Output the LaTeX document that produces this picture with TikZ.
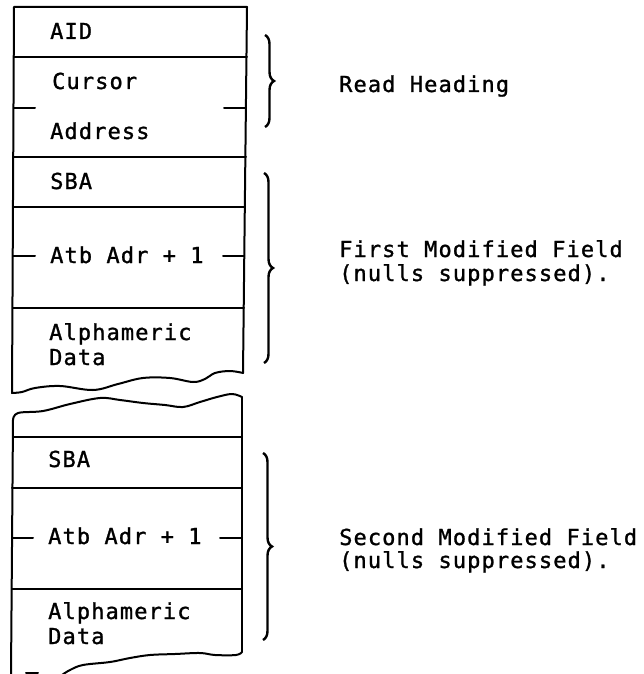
\documentclass[tikz,border=0pt]{standalone}
\usepackage{fontspec}
\setmonofont[LetterSpace=5,FakeBold=1.2]{DejaVu Sans Mono}
\usetikzlibrary{decorations.pathreplacing}
\begin{document}
\begin{tikzpicture}[x=1pt,y=-1pt,
  edge/.style={line width=2pt, line join=round, line cap=round},
  lbl/.style={anchor=base west, inner sep=0pt, font=\fontsize{22}{24}\selectfont\ttfamily},
  brc/.style={line width=2.4pt, decorate, decoration={brace, amplitude=9pt}}]
\useasboundingbox (0,0) rectangle (644,674);
% upper part outline
\draw[edge] (12,393) -- (14,7) -- (247,7) -- (243,373);
\draw[edge] plot[smooth, tension=0.6] coordinates {(12,393) (22,392) (35,388) (60,386) (93,390) (118,384) (143,378) (170,378) (193,382) (205,379) (215,373) (230,371) (243,373)};
% lower part outline
\draw[edge] (11,674) -- (13,420);
\draw[edge] plot[smooth, tension=0.6] coordinates {(13,420) (18,413) (43,411) (70,404) (100,398) (120,400) (143,403) (165,405) (183,407) (200,402) (217,397) (232,394) (242,397)};
\draw[edge] (242,397) -- (242,652);
\draw[edge] plot[smooth, tension=0.6] coordinates {(242,652) (236,655) (215,655) (200,653) (175,654) (150,655) (130,658) (110,662) (83,665) (70,670) (62,675)};
\draw[edge] (26,673) -- (38,673);
% separators upper
\draw[edge] (14,57) -- (247,57);
\draw[edge] (13,157) -- (246,157);
\draw[edge] (13,207) -- (245,207);
\draw[edge] (13,308) -- (244,308);
% separators lower
\draw[edge] (13,437) -- (242,437);
\draw[edge] (12,488) -- (242,488);
\draw[edge] (12,589) -- (242,589);
% ticks
\draw[edge] (14,108) -- (35,108);
\draw[edge] (224,108) -- (246,108);
\draw[edge] (13,256) -- (35,256);
\draw[edge] (223,256) -- (244,256);
\draw[edge] (12,538) -- (33,538);
\draw[edge] (220,538) -- (242,538);
% box texts
\node[lbl] (aid) at (50,39) {AID};
\node[lbl] (cur) at (52,89) {Cursor};
\node[lbl] (adr) at (50,139) {Address};
\node[lbl] (sba1) at (50,189) {SBA};
\node[lbl] (atb1) at (50,263) {Atb Adr + 1};
\node[lbl] (alp1) at (49,340) {Alphameric};
\node[lbl] (dat1) at (49,365) {Data};
\node[lbl] (sba2) at (48,467) {SBA};
\node[lbl] (atb2) at (48,544) {Atb Adr + 1};
\node[lbl] (alp2) at (48,619) {Alphameric};
\node[lbl] (dat2) at (48,644) {Data};
% braces
\draw[brc] (265,35) -- (265,127);
\draw[brc] (264,173) -- (264,363);
\draw[brc] (263,453) -- (263,640);
% right texts
\node[lbl] (rh) at (339,92) {Read Heading};
\node[lbl] (f1) at (339,257) {First Modified Field};
\node[lbl] (n1) at (339,281) {(nulls suppressed).};
\node[lbl] (f2) at (339,545) {Second Modified Field};
\node[lbl] (n2) at (339,568) {(nulls suppressed).};
\end{tikzpicture}
\end{document}
